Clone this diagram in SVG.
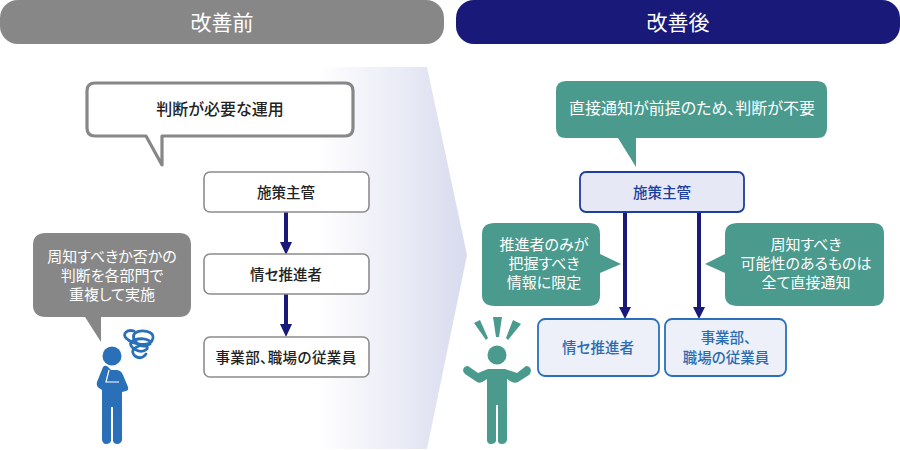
<svg xmlns="http://www.w3.org/2000/svg" width="900" height="450" viewBox="0 0 900 450">
<style>
text{font-family:"Noto Sans CJK JP","Noto Sans",sans-serif;text-anchor:middle;font-feature-settings:"palt"}
.h{font-size:21px;fill:#fff}
.k{font-size:14.5px;fill:#222;font-weight:500}
.w{font-size:15px;fill:#fff}
.b{font-size:14.5px;fill:#2b6cb0;font-weight:500}
.box{fill:#fff;stroke:#8c8c8c;stroke-width:1.6}
.bl{fill:#edf0f9;stroke:#2a70b8;stroke-width:1.8}
.ln{stroke:#19197a;stroke-width:4;fill:none}
.t{fill:#4a9a8d}
.p{fill:#2a70b8}
</style>
<defs>
<linearGradient id="g" x1="0" y1="0" x2="1" y2="0"><stop offset="0" stop-color="#fff"/><stop offset="0.68" stop-color="#fff"/><stop offset="1" stop-color="#d8dbee"/></linearGradient>
</defs>
<g id="head-before"><rect x="0" y="0" width="444" height="44" rx="18" fill="#878787"/><text class="h" x="222" y="30">改善前</text></g>
<g id="head-after"><rect x="456" y="0" width="444" height="44" rx="18" fill="#19197a"/><text class="h" x="678" y="30">改善後</text></g>
<polygon id="big-arrow" points="0,67 427,67 467,255 427,449 0,449" fill="url(#g)"/>
<g id="bubble-top"><path d="M95 83H345Q353 83 353 91V128Q353 136 345 136H162V165L146 136H95Q87 136 87 128V91Q87 83 95 83Z" fill="#fff" stroke="#878787" stroke-width="3.2" stroke-linejoin="round"/><text class="k" style="font-size:16px" x="220" y="115">判断が必要な運用</text></g>
<g id="connectors">
<path class="ln" d="M286 212V245M286 294V328M625 212V310M699 212V310"/>
<path fill="#19197a" d="M280 242H292L286 255ZM280 324H292L286 337ZM619 307H631L625 319ZM693 307H705L699 319Z"/>
</g>
<g id="n1"><rect class="box" x="204" y="172" width="165" height="40" rx="6"/><text class="k" x="286" y="198">施策主管</text></g>
<g id="n2"><rect class="box" x="204" y="254" width="165" height="40" rx="6"/><text class="k" x="286" y="280">情セ推進者</text></g>
<g id="n3"><rect class="box" x="204" y="337" width="165" height="40" rx="6"/><text class="k" style="letter-spacing:.4px" x="286" y="363">事業部、職場の従業員</text></g>
<g id="bubble-gray"><path d="M46 233H179Q191 233 191 245V305Q191 317 179 317H101V342L85 317H46Q33 317 33 305V245Q33 233 46 233Z" fill="#878787"/>
<text class="w" x="112" y="262">周知すべきか否かの</text><text class="w" x="112" y="281">判断を各部門で</text><text class="w" x="112" y="300">重複して実施</text></g>
<g id="person-left" class="p">
<circle cx="112" cy="356" r="9.5"/>
<path d="M103 367Q106 364 109 368L111 370H116Q121 370 123 375L128 387Q129 390 126 391L122 392V440Q121 444 117 444Q114 444 113 441V407H111V441Q110 444 106 444Q103 444 102 440V390L99 388Q96 386 97 382Z"/>
<path d="M109 370L106 382H119" stroke="#fff" stroke-width="1.2" fill="none"/>
<path d="M134 331C127 329 122 334 126 338C133 345 151 348 153 338C154 331 141 329 135 333C129 339 142 351 150 344C152 338 137 337 131 342C128 347 140 355 147 349C149 344 138 344 133 350C131 355 140 362 146 354" fill="none" stroke="#2a70b8" stroke-width="2.8" stroke-linecap="round"/>
</g>
<g id="bubble-top-right"><path d="M566 81H817Q827 81 827 91V128Q827 138 817 138H636V167L618 138H566Q556 138 556 128V91Q556 81 566 81Z" class="t"/><text class="w" style="font-size:16px" x="692" y="114">直接通知が前提のため、判断が不要</text></g>
<g id="r1"><rect x="580" y="172" width="164" height="40" rx="6" fill="#e7e8f5" stroke="#1d3f9e" stroke-width="1.8"/><text class="k" style="fill:#1d3f9e" x="662" y="198">施策主管</text></g>
<g id="bubble-mid"><path d="M495 223H589Q600 223 600 234V254L621 264L600 273V295Q600 306 589 306H495Q482 306 482 295V234Q482 223 495 223Z" class="t"/>
<text class="w" x="544" y="250">推進者のみが</text><text class="w" x="544" y="269">把握すべき</text><text class="w" x="544" y="288">情報に限定</text></g>
<g id="bubble-right"><path d="M738 223H873Q884 223 884 234V295Q884 306 873 306H738Q725 306 725 295V273L705 264L725 254V234Q725 223 738 223Z" class="t"/>
<text class="w" x="806" y="250">周知すべき</text><text class="w" x="806" y="269">可能性のあるものは</text><text class="w" x="806" y="288">全て直接通知</text></g>
<g id="r2"><rect class="bl" x="538" y="319" width="121" height="57" rx="7"/><text class="b" x="598" y="353">情セ推進者</text></g>
<g id="r3"><rect class="bl" x="665" y="319" width="121" height="57" rx="7"/><text class="b" x="726" y="343">事業部、</text><text class="b" x="726" y="363">職場の従業員</text></g>
<g id="person-right" class="t">
<path d="M474 323L480 320L488 338L486 340Z M493 317H502L499 337H496Z M513 320L521 324L508 340L506 338Z"/>
<circle cx="497" cy="355" r="9.5"/>
<path d="M463 370Q464 366 468 366L478 373L488 369H505L517 373L526 366Q530 366 531 370Q531 373 529 375L518 382Q514 384 510 381L507 379V440Q506 444 502 444Q498 444 498 441V405H496V441Q495 444 491 444Q487 444 487 440V379L484 381Q480 384 477 382L465 374Q463 372 463 370Z"/>
</g>
</svg>
